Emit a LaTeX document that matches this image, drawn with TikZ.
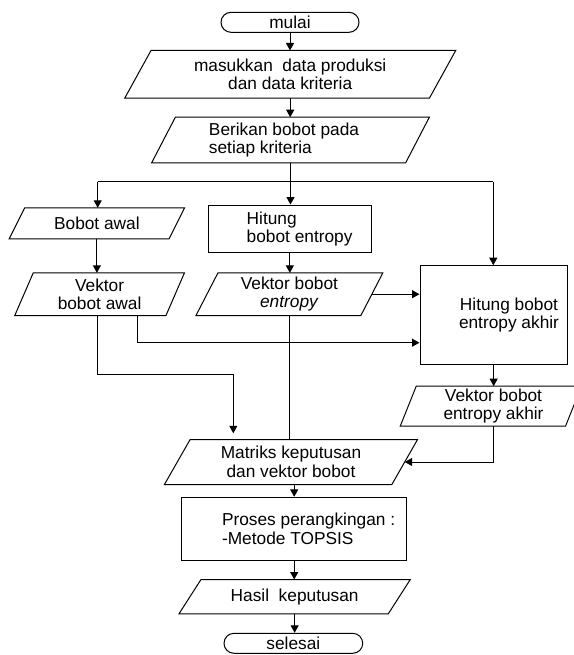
\documentclass[tikz,border=0pt]{standalone}
\usepackage{fontspec}
\setmainfont{Liberation Sans}
\usetikzlibrary{arrows.meta}
\tikzset{
  base/.style={font=\fontsize{17.3}{18.5}\selectfont, inner sep=0pt, line width=1pt},
  term/.style={base, draw, rounded corners=10pt},
  io/.style={base, align=center},
  proc/.style={base, draw, align=center},
  conn/.style={line width=1pt},
  arr/.style={line width=1pt, -{Triangle[length=7.5pt,width=8pt]}},
}
\newcommand\drawio[2]{\draw[line width=1pt] ([xshift=#2/2]#1.north west) -- ([xshift=#2/2]#1.north east) -- ([xshift=-#2/2]#1.south east) -- ([xshift=-#2/2]#1.south west) -- cycle;}
\begin{document}
\begin{tikzpicture}[x=1pt,y=-1pt]
\path[use as bounding box, fill=white] (0,0) rectangle (573,655);

\node[term, minimum width=138pt, minimum height=20pt] (mulai) at (290,22.3) {mulai};
\node[io, minimum width=303.7pt, minimum height=46.7pt] (masuk) at (290.2,74.35) {masukkan\ \ data produksi\\dan data kriteria};
\drawio{masuk}{26.3pt}
\node[io, align=left, minimum width=253pt, minimum height=44.6pt] (berikan) at (290.5,140) {Berikan bobot pada\hspace*{13pt}\\setiap kriteria};
\drawio{berikan}{23.7pt}
\node[io, minimum width=158.8pt, minimum height=30pt] (bawal) at (96.9,223.3) {Bobot awal};
\drawio{bawal}{15.5pt}
\node[proc, align=left, minimum width=163.7pt, minimum height=47.7pt] (hitung) at (289.85,228.85) {\hspace*{19.5pt}Hitung\\\hspace*{19.5pt}bobot entropy};
\node[io, minimum width=150.2pt, minimum height=41.7pt] (vawal) at (99.6,294.2) {Vektor\\bobot awal};
\drawio{vawal}{18.5pt}
\node[io, minimum width=163.9pt, minimum height=41.7pt] (ventropy) at (289.4,294.2) {Vektor bobot\\\textit{entropy}};
\drawio{ventropy}{22pt}
\node[proc, minimum width=147.3pt, minimum height=98.3pt] (akhir) at (493.65,314.85) {\hspace*{30.7pt}Hitung bobot\\\hspace*{30.7pt}entropy akhir};
\node[io, minimum width=164.3pt, minimum height=39pt] (vakhir) at (490.85,406.2) {\hspace*{5.3pt}Vektor bobot\\\hspace*{5.3pt}entropy akhir};
\drawio{vakhir}{16pt}
\node[io, minimum width=226.4pt, minimum height=44pt] (matriks) at (291,462) {Matriks keputusan\\dan vektor bobot};
\drawio{matriks}{25.7pt}
\node[proc, align=left, minimum width=225pt, minimum height=62.7pt] (proses) at (294.2,528.65) {\hspace*{28.8pt}Proses perangkingan :\\\hspace*{28.8pt}-Metode TOPSIS};
\node[io, minimum width=208.3pt, minimum height=33.3pt] (hasil) at (294.65,596.65) {Hasil\ \ keputusan};
\drawio{hasil}{22pt}
\node[term, minimum width=138.7pt, minimum height=20pt] (selesai) at (293.35,643.3) {selesai};

\coordinate (jL) at (97.7,181.7);
\coordinate (jR) at (493.3,181.7);
\coordinate (b1) at (137.7,342.7);
\coordinate (b2) at (97.7,374);
\coordinate (b3) at (233.3,433.3);
\coordinate (b4) at (493.3,462);

\draw[arr] (mulai.south) -- (mulai.south |- masuk.north);
\draw[arr] (masuk.south) -- (masuk.south |- berikan.north);
\draw[conn] (berikan.south) -- (berikan.south |- jL);
\draw[conn] (jL) -- (jR);
\draw[arr] (jL) -- (jL |- bawal.north);
\draw[arr] (berikan.south) -- (berikan.south |- hitung.north);
\draw[arr] (jR) -- (jR |- akhir.north);
\draw[arr] (bawal.south) -- (bawal.south |- vawal.north);
\draw[arr] (hitung.south) -- (hitung.south |- ventropy.north);
\draw[arr] (ventropy.east) -- (ventropy.east -| akhir.west);
\draw[arr] (b1 |- vawal.south) -- (b1) -- (b1 -| akhir.west);
\draw[arr] (b2 |- vawal.south) -- (b2) -| (b3);
\draw[conn] (ventropy.south) -- (ventropy.south |- matriks.north);
\draw[arr] (akhir.south) -- (akhir.south |- vakhir.north);
\draw[arr] (b4 |- vakhir.south) -- (b4) -- (matriks.east);
\draw[arr] (proses.north |- matriks.south) -- (proses.north);
\draw[arr] (proses.south) -- (proses.south |- hasil.north);
\draw[arr] (hasil.south) -- (hasil.south |- selesai.north);
\end{tikzpicture}
\end{document}
